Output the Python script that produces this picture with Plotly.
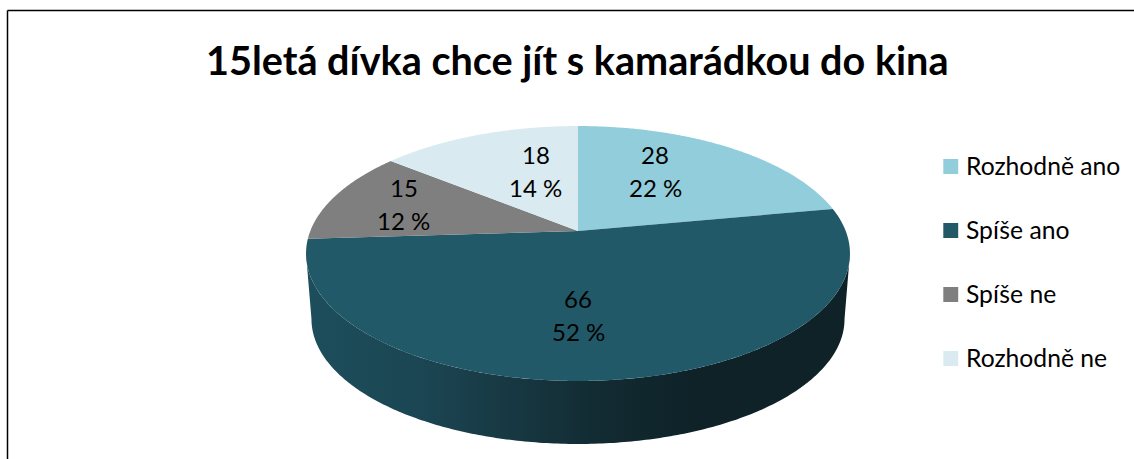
import numpy as np
import plotly.graph_objects as go

TITLE = "15letá dívka chce jít s kamarádkou do kina"
categories = ["Rozhodně ano", "Spíše ano", "Spíše ne", "Rozhodně ne"]
values = [28, 66, 15, 18]
percent_labels = ["22 %", "52 %", "12 %", "14 %"]
colors = ["#92CDDC", "#215968", "#7F7F7F", "#D9EBF1"]

W, H = 1134, 459
FONT = "Lato"

# Perspective projection of the pie disc onto the page (pixel-valued axes)
CX, CY, AX, BY, K = 578.0, 231.0, 267.7, 123.5, 0.1765
WALL_SCALE, WALL_DROP = 0.98, 66.0


def top_rim(theta):
    u, v = np.sin(theta), np.cos(theta)
    w = 1 + K * v
    return CX + AX * u / w, CY - BY * v / w


def bottom_rim(theta):
    x, y = top_rim(theta)
    return CX + WALL_SCALE * (x - CX), CY + WALL_DROP + WALL_SCALE * (y - CY)


fig = go.Figure()

# Side wall, spanning the silhouette of the front of the disc
t0 = np.arccos(-K)
t1 = 2 * np.pi - t0
th = np.linspace(t0, t1, 240)
tx, ty = top_rim(th)
bx, by = bottom_rim(th)
fig.add_trace(go.Scatter(
    x=np.concatenate([tx, bx[::-1]]), y=np.concatenate([ty, by[::-1]]),
    mode="none", fill="toself",
    fillgradient=dict(type="horizontal", colorscale=[
        [0.0, "#1D4E5C"], [0.22, "#1B4552"], [0.45, "#15323B"],
        [0.55, "#122A31"], [0.72, "#0E2228"], [1.0, "#0E2228"]]),
    hoverinfo="skip", showlegend=False))

# Top surface: one wedge per value
total = sum(values)
start = 0.0
for name, val, pct, col in zip(categories, values, percent_labels, colors):
    sweep = 2 * np.pi * val / total
    a = np.linspace(start, start + sweep, max(int(val * 6), 12))
    x, y = top_rim(a)
    fig.add_trace(go.Scatter(
        x=np.concatenate([[CX], x, [CX]]), y=np.concatenate([[CY], y, [CY]]),
        mode="none", fill="toself", fillcolor=col, name=name,
        text=f"{name}: {val} ({pct})", hoverinfo="text", showlegend=False))
    start += sweep

annotations = []


def add_text(x, y, s, size, anchor="center", bold=False):
    annotations.append(dict(
        x=x, y=y, xref="x", yref="y", text=f"<b>{s}</b>" if bold else s,
        showarrow=False, xanchor=anchor, yanchor="middle",
        font=dict(family=FONT, size=size, color="#000000")))


add_text(577.5, 59, TITLE, 39.6, bold=True)

# Data labels: slice order, centred on the pairs seen in the chart
label_centres = [(655, 170.5), (578, 315), (403.5, 204), (535.5, 170.5)]
for (lx, ly), val, pct in zip(label_centres, values, percent_labels):
    add_text(lx, ly - 16.5, str(val), 24)
    add_text(lx, ly + 16.5, pct, 24)

shapes = [
    dict(type="line", x0=7.5, x1=7.5, y0=10.5, y1=H, line=dict(color="#000", width=1.5)),
    dict(type="line", x0=7.5, x1=W, y0=10.5, y1=10.5, line=dict(color="#000", width=1.5)),
]

# Legend
for i, (name, col) in enumerate(zip(categories, colors)):
    yc = 166.5 + 64 * i
    shapes.append(dict(type="rect", x0=943.3, x1=958.2, y0=yc - 7.5, y1=yc + 7.5,
                       fillcolor=col, line=dict(width=0)))
    add_text(963.5, yc - 1, name, 24.7, anchor="left")

fig.update_layout(
    width=W, height=H, autosize=False,
    margin=dict(l=0, r=0, t=0, b=0),
    paper_bgcolor="#FFFFFF", plot_bgcolor="#FFFFFF",
    xaxis=dict(range=[0, W], visible=False, fixedrange=True),
    yaxis=dict(range=[H, 0], visible=False, fixedrange=True),
    annotations=annotations, shapes=shapes, showlegend=False,
)

fig.write_html("out.html", include_plotlyjs=True, config={"displayModeBar": False},
               post_script="document.body.style.margin='0';document.body.style.overflow='hidden';")
